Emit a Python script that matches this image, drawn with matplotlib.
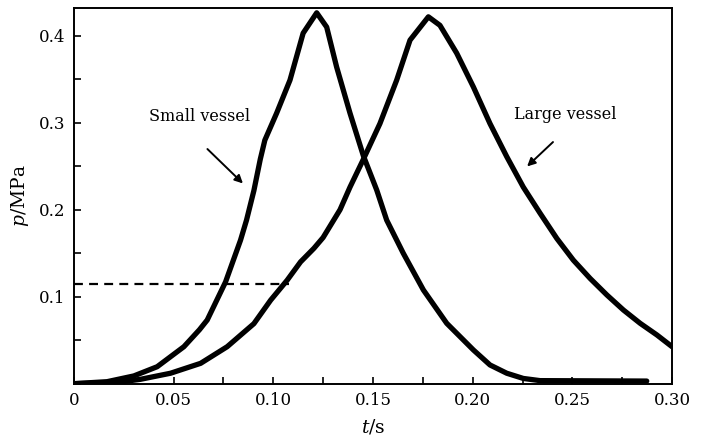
import matplotlib.pyplot as plt
from matplotlib.ticker import MultipleLocator

plt.rcParams['font.family'] = ['DejaVu Serif']
plt.rcParams['mathtext.fontset'] = 'dejavuserif'

# Small vessel pressure trace (t in s, p in MPa)
small_t = [0.0, 0.0167, 0.0301, 0.0418, 0.0552, 0.063, 0.0669, 0.0761, 0.0836, 0.0866,
           0.0903, 0.0935, 0.0958, 0.1017, 0.1084, 0.115, 0.1218, 0.1268, 0.1318, 0.1385,
           0.1452, 0.1519, 0.1569, 0.1652, 0.1753, 0.187, 0.2004, 0.2087, 0.2171, 0.2254,
           0.2338, 0.2873]
small_p = [0.0, 0.0023, 0.0089, 0.0195, 0.0425, 0.062, 0.0732, 0.117, 0.165, 0.188,
           0.222, 0.258, 0.280, 0.311, 0.349, 0.403, 0.4264, 0.410, 0.364, 0.311,
           0.262, 0.2226, 0.188, 0.150, 0.1077, 0.0694, 0.0387, 0.0215, 0.012, 0.006,
           0.0035, 0.003]

# Large vessel pressure trace
large_t = [0.0, 0.020, 0.0334, 0.0485, 0.0636, 0.0769, 0.0903, 0.0987, 0.107, 0.1137,
           0.1204, 0.125, 0.1335, 0.1385, 0.145, 0.1535, 0.1619, 0.1686, 0.1778, 0.1836,
           0.192, 0.2004, 0.2087, 0.2171, 0.2254, 0.2338, 0.2422, 0.2505, 0.2589, 0.2673,
           0.2756, 0.284, 0.2924, 0.300]
large_p = [0.0, 0.001, 0.005, 0.012, 0.0234, 0.0425, 0.069, 0.096, 0.119, 0.140,
           0.1556, 0.168, 0.200, 0.226, 0.257, 0.299, 0.349, 0.395, 0.4218, 0.412,
           0.380, 0.341, 0.299, 0.261, 0.226, 0.196, 0.167, 0.142, 0.121, 0.102,
           0.0847, 0.0694, 0.056, 0.0425]

# Threshold dashed line
thresh_p = 0.115
thresh_t_end = 0.108

x_ticks = [0, 0.05, 0.10, 0.15, 0.20, 0.25, 0.30]
x_labels = ['0', '0.05', '0.10', '0.15', '0.20', '0.25', '0.30']
y_ticks = [0.1, 0.2, 0.3, 0.4]
y_labels = ['0.1', '0.2', '0.3', '0.4']

fig = plt.figure(figsize=(7.03, 4.41), dpi=100)
ax = fig.add_axes([0.105, 0.130, 0.851, 0.852])

ax.plot(small_t, small_p, color='black', lw=3.8, solid_capstyle='round', solid_joinstyle='round')
ax.plot(large_t, large_p, color='black', lw=3.8, solid_capstyle='round', solid_joinstyle='round')
ax.plot([0, thresh_t_end], [thresh_p, thresh_p], color='black', lw=1.6, ls=(0, (4, 2.8)))

ax.annotate('', xy=(0.0858, 0.228), xytext=(0.066, 0.272),
            arrowprops=dict(arrowstyle='-|>', color='black', lw=1.4, mutation_scale=12))
ax.text(0.0632, 0.307, 'Small vessel', ha='center', va='center', fontsize=11.5)

ax.annotate('', xy=(0.2263, 0.2476), xytext=(0.2413, 0.280),
            arrowprops=dict(arrowstyle='-|>', color='black', lw=1.4, mutation_scale=12))
ax.text(0.2464, 0.309, 'Large vessel', ha='center', va='center', fontsize=11.5)

ax.set_xlim(0, 0.30)
ax.set_ylim(0, 0.432)
ax.set_xticks(x_ticks)
ax.set_xticklabels(x_labels)
ax.xaxis.set_minor_locator(MultipleLocator(0.025))
ax.set_yticks(y_ticks)
ax.set_yticklabels(y_labels)
ax.yaxis.set_minor_locator(MultipleLocator(0.05))
ax.tick_params(which='both', direction='in', length=5, width=1.2, labelsize=12, pad=6)
for s in ax.spines.values():
    s.set_linewidth(1.4)

ax.set_xlabel(r'$t$/s', fontsize=13.5, labelpad=6)
ax.set_ylabel(r'$p$/MPa', fontsize=13.5, labelpad=6)

fig.savefig('out.png', dpi=100)
